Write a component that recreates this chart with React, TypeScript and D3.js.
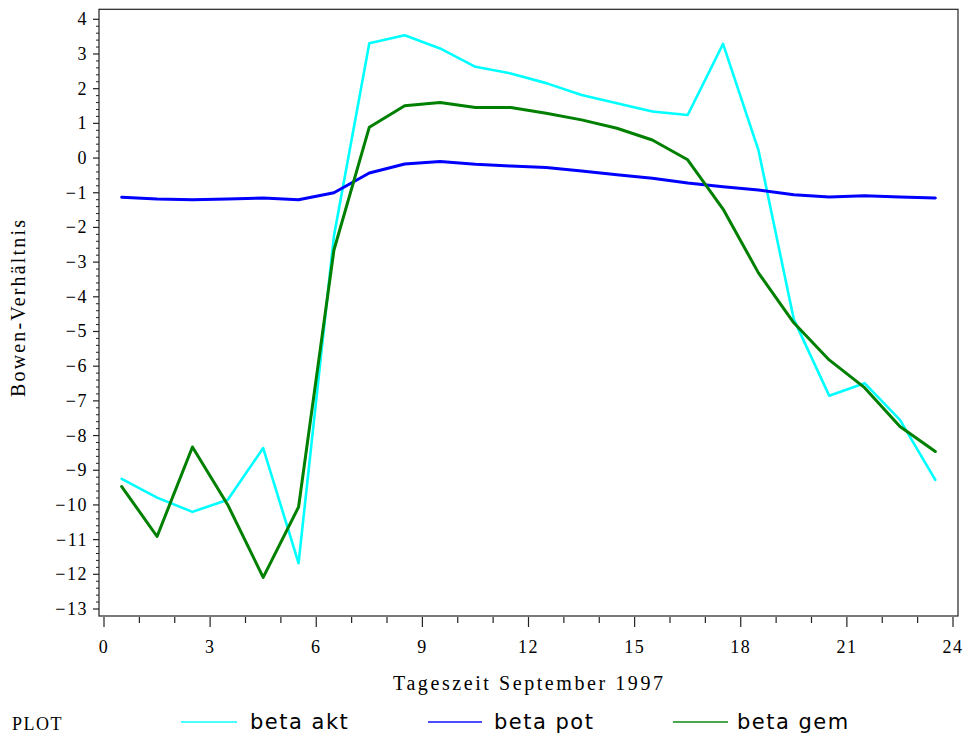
import React from 'react';
import * as d3 from 'd3';

const hours = [0.5, 1.5, 2.5, 3.5, 4.5, 5.5, 6.5, 7.5, 8.5, 9.5, 10.5, 11.5, 12.5, 13.5, 14.5, 15.5, 16.5, 17.5, 18.5, 19.5, 20.5, 21.5, 22.5, 23.5];

const betaAkt = [-9.25, -9.79, -10.2, -9.85, -8.36, -11.68, -2.25, 3.31, 3.54, 3.16, 2.63, 2.44, 2.16, 1.82, 1.58, 1.34, 1.24, 3.29, 0.23, -4.65, -6.85, -6.49, -7.55, -9.28];
const betaPot = [-1.13, -1.18, -1.2, -1.18, -1.15, -1.2, -1.0, -0.43, -0.17, -0.1, -0.18, -0.23, -0.27, -0.37, -0.48, -0.58, -0.72, -0.83, -0.92, -1.06, -1.12, -1.09, -1.12, -1.15];
const betaGem = [-9.47, -10.91, -8.33, -10.0, -12.09, -10.06, -2.65, 0.89, 1.51, 1.6, 1.46, 1.46, 1.29, 1.1, 0.86, 0.52, -0.05, -1.47, -3.31, -4.75, -5.82, -6.62, -7.74, -8.46];

const xTicks = [0, 3, 6, 9, 12, 15, 18, 21, 24];
const yTicks = [4, 3, 2, 1, 0, -1, -2, -3, -4, -5, -6, -7, -8, -9, -10, -11, -12, -13];

const seriesNames = ['beta akt', 'beta pot', 'beta gem'];
const seriesColors = ['#00ffff', '#0000ff', '#008000'];

const W = 967, H = 734;
const serif = '"Liberation Serif", serif';

export default function App() {
    const xScale = d3.scaleLinear().domain([0, 24]).range([104, 953]);
    const yScale = d3.scaleLinear().domain([-13, 4]).range([609, 19.3]);

    const boxLeft = 99, boxRight = 958;
    const boxTop = yScale(4) - 10, boxBottom = yScale(-13) + 7;

    const line = d3.line<number>()
        .x((d, i) => xScale(hours[i]))
        .y(d => yScale(d));

    const allSeries = [betaAkt, betaPot, betaGem];

    const xMinor = d3.range(0, 25, 1).filter(v => v % 3 !== 0);
    const yMinor = d3.range(-13, 4.001, 0.2).filter(v => Math.abs(v - Math.round(v)) > 0.01);

    const fmt = (v: number) => (v < 0 ? '\u2212' + Math.abs(v) : String(v));

    // legend positions
    const legend = [
        { x1: 181, x2: 237, tx: 250 },
        { x1: 428, x2: 482, tx: 494 },
        { x1: 673, x2: 728, tx: 737 },
    ];

    return (
        <svg width={W} height={H} style={{ position: 'absolute', left: 0, top: 0, background: '#fff' }}>
            {/* plot frame */}
            <rect x={boxLeft} y={boxTop} width={boxRight - boxLeft} height={boxBottom - boxTop}
                fill="none" stroke="#222" strokeWidth={1.2} />

            {/* y axis */}
            {yTicks.map(v => (
                <g key={'y' + v}>
                    <line x1={boxLeft - 6} x2={boxLeft} y1={yScale(v)} y2={yScale(v)} stroke="#222" strokeWidth={1.2} />
                    <text x={88} y={yScale(v) + 6} textAnchor="end" fontFamily={serif} fontSize={18} letterSpacing={1.5} fill="#000">{fmt(v)}</text>
                </g>
            ))}
            {yMinor.map((v, i) => (
                <line key={'ym' + i} x1={boxLeft - 3} x2={boxLeft} y1={yScale(v)} y2={yScale(v)} stroke="#222" strokeWidth={1} />
            ))}

            {/* x axis */}
            {xTicks.map(v => (
                <g key={'x' + v}>
                    <line x1={xScale(v)} x2={xScale(v)} y1={boxBottom + 1} y2={boxBottom + 11} stroke="#222" strokeWidth={1.2} />
                    <text x={xScale(v)} y={653} textAnchor="middle" fontFamily={serif} fontSize={18} letterSpacing={1.5} fill="#000">{v}</text>
                </g>
            ))}
            {xMinor.map(v => (
                <line key={'xm' + v} x1={xScale(v)} x2={xScale(v)} y1={boxBottom + 1} y2={boxBottom + 7} stroke="#222" strokeWidth={1.2} />
            ))}

            <text x={393} y={690} fontFamily={serif} fontSize={20} textLength={270} lengthAdjust="spacing" fill="#000">Tageszeit September 1997</text>
            <text transform={`translate(25,397) rotate(-90)`} fontFamily={serif} fontSize={20} textLength={177} lengthAdjust="spacing" fill="#000">Bowen-Verhältnis</text>

            {/* series */}
            {allSeries.map((s, i) => (
                <path key={'s' + i} d={line(s) || ''} fill="none" stroke={seriesColors[i]} strokeWidth={i === 0 ? 2.6 : 3}
                    strokeLinejoin="round" strokeLinecap="round" />
            ))}

            {/* legend */}
            <text x={12} y={730} fontFamily={serif} fontSize={18} letterSpacing={1.5} fill="#000">PLOT</text>
            {legend.map((l, i) => (
                <g key={'l' + i}>
                    <line x1={l.x1} x2={l.x2} y1={722} y2={722} stroke={seriesColors[i]} strokeWidth={2} strokeOpacity={0.7} />
                    <text x={l.tx} y={729} fontFamily='"DejaVu Sans", sans-serif' fontSize={21} letterSpacing={1.5} fill="#000">{seriesNames[i]}</text>
                </g>
            ))}
        </svg>
    );
}
